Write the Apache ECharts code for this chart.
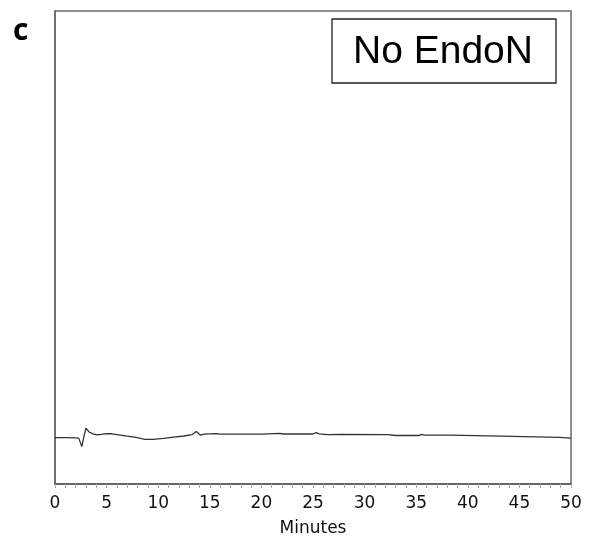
<!DOCTYPE html>
<html>
<head>
<meta charset="utf-8">
<script src="https://cdn.jsdelivr.net/npm/echarts@6/dist/echarts.min.js"></script>
<style>
  html, body { margin: 0; padding: 0; background: #fff; }
  #chart { width: 589px; height: 539px; }
</style>
</head>
<body>
<div id="chart"></div>
<script>
// Chromatogram trace: retention time (minutes) and detector signal
const times = [0, 1.0, 2.0, 2.3, 2.6, 2.8, 3.0, 3.3, 3.7, 4.05, 4.5, 5.0, 5.5, 6.0, 7.0, 8.0, 8.7, 9.5, 10.5, 11.5, 12.5, 13.3, 13.7, 14.1, 14.4, 15.6, 16.0, 20.0, 21.8, 22.1, 25.0, 25.3, 25.6, 26.4, 27.7, 27.8, 32.3, 32.4, 33.0, 35.3, 35.5, 35.8, 38.3, 38.4, 43.2, 43.3, 48.9, 49.0, 50];
const signal = [9.81, 9.80, 9.75, 9.70, 7.90, 10.0, 11.80, 11.0, 10.6, 10.38, 10.50, 10.66, 10.62, 10.45, 10.1, 9.8, 9.45, 9.45, 9.65, 9.9, 10.15, 10.45, 11.08, 10.32, 10.53, 10.66, 10.53, 10.55, 10.72, 10.57, 10.57, 10.87, 10.6, 10.45, 10.5, 10.45, 10.45, 10.35, 10.25, 10.25, 10.50, 10.32, 10.32, 10.11, 10.11, 9.89, 9.85, 9.70, 9.68];
const xTicks = ['0', '5', '10', '15', '20', '25', '30', '35', '40', '45', '50'];
const panelLabel = 'c';
const sampleLabel = 'No EndoN';
const xTitle = 'Minutes';

const chart = echarts.init(document.getElementById('chart'), null, { renderer: 'canvas' });

chart.setOption({
  animation: false,
  backgroundColor: '#fff',
  grid: {
    left: 55, right: 18, top: 11, bottom: 55,
    containLabel: false, outerBoundsMode: 'none',
    show: true, borderColor: '#6a6a6a', borderWidth: 1.5, backgroundColor: 'transparent'
  },
  xAxis: {
    type: 'value', min: 0, max: 50, interval: 5,
    name: xTitle, nameLocation: 'middle', nameGap: 36,
    nameTextStyle: { fontFamily: 'DejaVu Sans', fontSize: 17, color: '#111' },
    axisLine: { show: true, lineStyle: { color: '#555', width: 1.5 } },
    axisTick: { show: true, length: 4, lineStyle: { color: '#aaa' } },
    minorTick: { show: true, splitNumber: 5, length: 4, lineStyle: { color: '#aaa' } },
    splitLine: { show: false },
    axisLabel: {
      fontFamily: 'DejaVu Sans', fontSize: 17, color: '#111', margin: 11,
      formatter: v => xTicks[Math.round(v / 5)] ?? ''
    }
  },
  yAxis: {
    type: 'value', min: 0, max: 100,
    axisLine: { show: true, lineStyle: { color: '#666', width: 1.5 } },
    axisTick: { show: false },
    axisLabel: { show: false },
    splitLine: { show: false }
  },
  series: [{
    type: 'line',
    data: times.map((t, i) => [t, signal[i]]),
    showSymbol: false,
    lineStyle: { color: '#333', width: 1.3 },
    z: 3
  }],
  graphic: [
    {
      type: 'text', left: 13, top: 16,
      style: { text: panelLabel, fontFamily: 'Open Sans, Noto Sans', fontWeight: 'bold', fontSize: 30, fill: '#000' }
    },
    {
      type: 'rect', shape: { x: 332, y: 19, width: 224, height: 64 },
      style: { fill: '#fff', stroke: '#222', lineWidth: 1.3 }
    },
    {
      type: 'text', x: 443, y: 52,
      style: { text: sampleLabel, fontFamily: 'Liberation Sans, Arial', fontSize: 39, fill: '#000', align: 'center', verticalAlign: 'middle' }
    }
  ]
});
</script>
</body>
</html>
